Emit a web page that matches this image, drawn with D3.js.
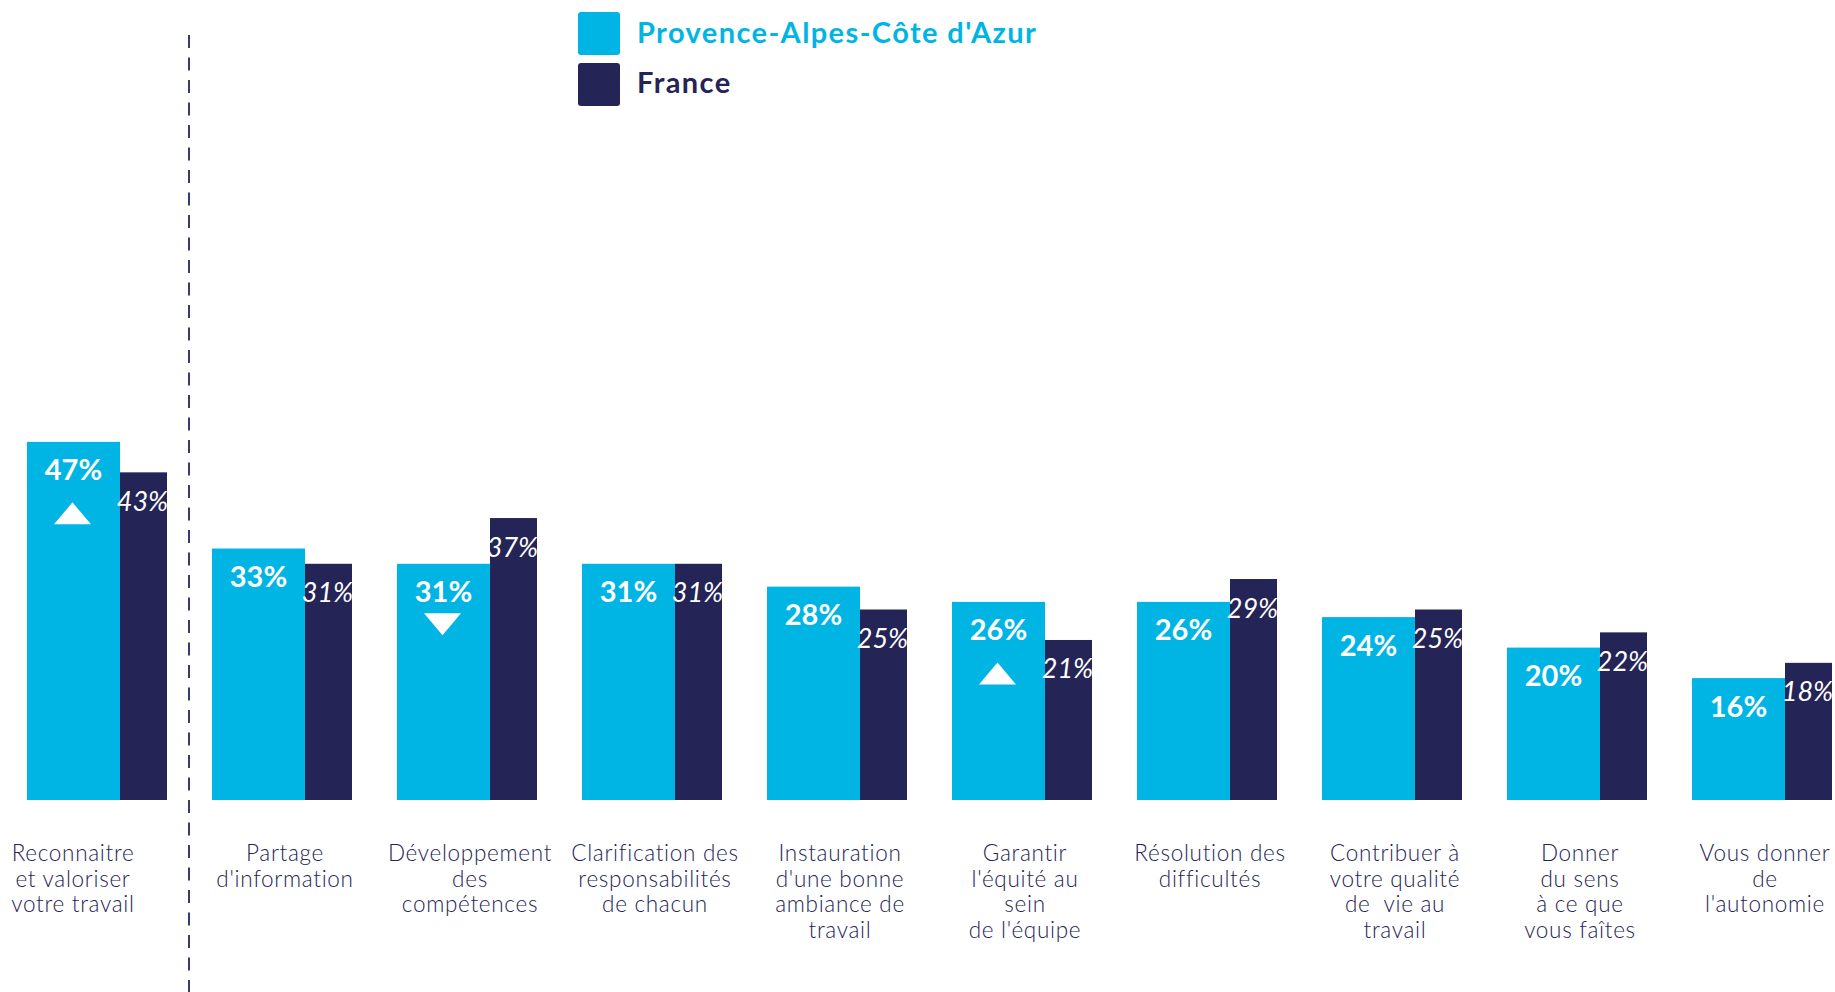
<!DOCTYPE html>
<html><head><meta charset="utf-8">
<script src="https://cdn.jsdelivr.net/npm/d3@7"></script>
<style>body{margin:0;background:#fff;} svg{display:block;}</style>
</head><body>
<svg id="chart" width="1835" height="992"></svg>
<script>
const categories = [
  ["Reconnaitre","et valoriser","votre travail"],
  ["Partage","d'information"],
  ["Développement","des","compétences"],
  ["Clarification des","responsabilités","de chacun"],
  ["Instauration","d'une bonne","ambiance de","travail"],
  ["Garantir","l'équité au","sein","de l'équipe"],
  ["Résolution des","difficultés"],
  ["Contribuer à","votre qualité","de  vie au","travail"],
  ["Donner","du sens","à ce que","vous faîtes"],
  ["Vous donner","de","l'autonomie"]
];
const pacaValues   = [47,33,31,31,28,26,26,24,20,16];
const franceValues = [43,31,37,31,25,21,29,25,22,18];
const trends = ["up",null,"down",null,null,"up",null,null,null,null];
const seriesNames = ["Provence-Alpes-Côte d'Azur","France"];

const LIGHT = "#00b5e4", DARK = "#242456";
const svg = d3.select("#chart");
const FONT = "Lato, 'Noto Sans', sans-serif";

const x = d3.scaleBand().domain(d3.range(categories.length)).range([27, 1832]).paddingInner(45/185).paddingOuter(0);
const y = d3.scaleLinear().domain([0,100]).range([800, 38]);
const lightW = x.bandwidth()*93/140, darkW = x.bandwidth()-lightW;

const g = svg.append("g");
const groups = g.selectAll("g.grp").data(d3.range(categories.length)).join("g").attr("class","grp");

groups.append("rect")
  .attr("x", i => x(i)).attr("width", lightW)
  .attr("y", i => y(pacaValues[i])).attr("height", i => y(0)-y(pacaValues[i]))
  .attr("fill", LIGHT);
groups.append("rect")
  .attr("x", i => x(i)+lightW).attr("width", darkW)
  .attr("y", i => y(franceValues[i])).attr("height", i => y(0)-y(franceValues[i]))
  .attr("fill", DARK);

groups.append("text")
  .attr("x", i => x(i)+lightW/2).attr("y", i => y(pacaValues[i])+38.5)
  .attr("text-anchor","middle").attr("fill","#fff")
  .attr("font-family", FONT).attr("font-weight","bold").attr("font-size", 29)
  .text(i => pacaValues[i] + "%");
groups.append("text")
  .attr("x", i => x(i)+lightW+darkW/2 - 1).attr("y", i => y(franceValues[i])+38.5)
  .attr("text-anchor","middle").attr("fill","#fff")
  .attr("font-family", FONT).attr("font-style","italic").attr("font-weight",400).attr("font-size", 27)
  .text(i => franceValues[i] + "%");

// trend triangles
groups.filter(i => trends[i]).append("path")
  .attr("fill","#fff")
  .attr("d", i => {
    const cx = x(i)+lightW/2 - 1, base = y(pacaValues[i]) + 38.5;
    if (trends[i] === "up") {
      const t = base + 22, b = base + 44;
      return `M${cx-18.5},${b}L${cx+18.5},${b}L${cx},${t}Z`;
    } else {
      const t = base + 11, b = base + 33;
      return `M${cx-18.5},${t}L${cx+18.5},${t}L${cx},${b}Z`;
    }
  });

// category labels
groups.append("text")
  .attr("text-anchor","middle").attr("fill", DARK)
  .attr("font-family", FONT).attr("font-weight",300).attr("font-size", 22.5)
  .attr("letter-spacing", 0.7)
  .attr("xml:space","preserve")
  .each(function(i){
    const cx = x(i) + x.bandwidth()/2 + (i===0 ? -24 : 3);
    d3.select(this).selectAll("tspan").data(categories[i]).join("tspan")
      .attr("x", cx).attr("y", (d,k) => 861 + k*25.7).text(d => d);
  });

// dashed separator
svg.append("line").attr("x1",189).attr("x2",189).attr("y1",35).attr("y2",992)
  .attr("stroke", "#3a3a6c").attr("stroke-width",2).attr("stroke-dasharray","13,9.5");

// legend
const leg = svg.append("g");
[LIGHT, DARK].forEach((c,k) => {
  leg.append("rect").attr("x",578).attr("y",12 + k*51).attr("width",42).attr("height",43).attr("rx",3).attr("fill",c);
  leg.append("text").attr("x",637).attr("y",43 + k*49.5)
    .attr("font-family", FONT).attr("font-weight","bold").attr("font-size",29)
    .attr("letter-spacing", 1.4)
    .attr("fill", c).text(seriesNames[k]);
});
</script>
</body></html>
